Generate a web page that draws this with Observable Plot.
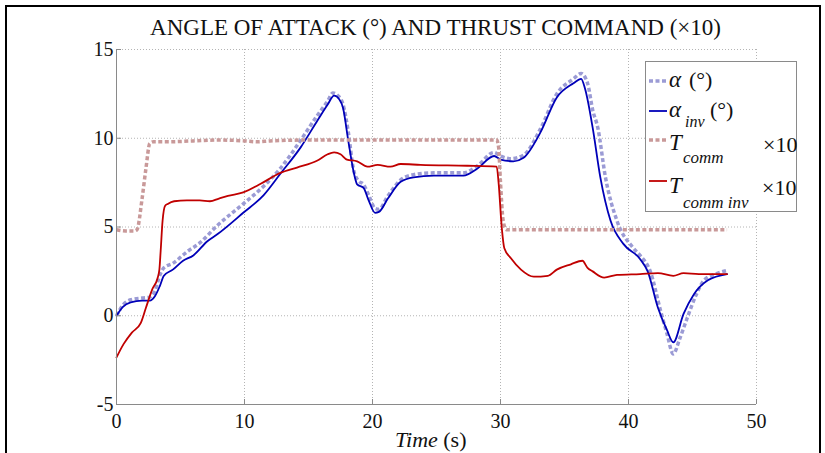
<!DOCTYPE html>
<html>
<head>
<meta charset="utf-8">
<script src="https://cdn.jsdelivr.net/npm/d3@7"></script>
<script src="https://cdn.jsdelivr.net/npm/@observablehq/plot@0.6"></script>
<style>
  body { margin: 0; background: #fff; }
  #wrap { position: relative; width: 825px; height: 453px; overflow: hidden; background: #fff; }
  #wrap > svg { position: absolute; left: 0; top: 0; }
  #overlay { pointer-events: none; font-family: "Liberation Serif", "Times New Roman", serif; }
</style>
</head>
<body>
<div id="wrap"></div>
<script>
// Angle of attack: reference (α) and inverse-model estimate (α_inv), degrees
const alphaTime = [0, 0.5, 1.1, 2.0, 2.6, 3.0, 3.4, 3.7, 4.4, 5.5, 6.5, 7.9, 9.9, 11.5, 12.8, 14.4, 15.7, 16.5, 16.9, 17.3, 17.7, 18.1, 18.5, 18.9, 19.3, 19.7, 20.2, 20.5, 21.2, 22.2, 23.2, 24.8, 27.1, 28.2, 29.5, 30.0, 30.8, 31.8, 33.1, 34.4, 35.7, 36.3, 36.8, 37.2, 37.6, 38.2, 39.1, 40.4, 40.9, 41.7, 42.5, 43.0, 43.5, 44.0, 44.6, 45.3, 45.9, 46.8, 47.7];
const alphaDeg  = [0, 0.6, 0.9, 1.0, 1.05, 1.4, 2.3, 2.7, 2.95, 3.6, 4.1, 5.1, 6.3, 7.3, 8.3, 9.9, 11.3, 12.1, 12.55, 12.4, 11.9, 10.4, 8.3, 7.6, 7.4, 6.8, 6.05, 6.0, 6.75, 7.65, 7.95, 8.05, 8.05, 8.45, 9.2, 9.0, 8.85, 9.05, 10.5, 12.5, 13.35, 13.65, 13.1, 11.6, 10.6, 7.8, 5.35, 3.8, 3.4, 2.5, 0.3, -1.0, -2.15, -1.3, -0.1, 1.2, 2.0, 2.35, 2.55];

const alphaInvTime = [0, 0.5, 1.1, 2.0, 2.6, 3.0, 3.4, 3.7, 4.4, 5.2, 6.0, 7.1, 7.9, 9.9, 11.5, 12.8, 14.4, 15.7, 16.5, 17.0, 17.4, 17.7, 18.1, 18.5, 18.8, 19.3, 19.7, 20.2, 20.5, 21.2, 22.2, 23.2, 24.8, 27.1, 28.2, 29.5, 30.0, 31.0, 31.8, 33.1, 34.4, 35.7, 36.3, 36.6, 37.2, 37.8, 38.6, 39.6, 40.9, 41.5, 42.3, 43.0, 43.5, 44.3, 45.1, 46.2, 47.7];
const alphaInvDeg  = [0, 0.5, 0.75, 0.85, 0.85, 1.1, 1.7, 2.25, 2.6, 3.1, 3.4, 4.2, 4.6, 5.8, 6.8, 8.0, 9.5, 11.0, 11.9, 12.4, 12.2, 11.7, 9.9, 8.2, 7.4, 7.2, 6.5, 5.8, 5.85, 6.6, 7.55, 7.8, 7.9, 7.9, 8.3, 9.0, 8.8, 8.7, 8.9, 10.3, 12.3, 13.1, 13.35, 12.8, 10.6, 7.8, 5.35, 4.05, 3.2, 2.5, 0.45, -0.8, -1.5, 0.1, 1.2, 2.0, 2.35];

// Thrust command (×10): reference and inverse-model estimate
const thrustTime = [0, 0.7, 1.4, 1.6, 2.0, 2.3, 2.6, 2.9, 4.0, 6.0, 8.0, 10.0, 11.0, 12.0, 15.0, 20.0, 25.0, 29.7, 29.85, 30.0, 30.2, 30.45, 35.0, 40.0, 47.7];
const thrustCmd  = [4.85, 4.78, 4.78, 4.85, 6.6, 8.3, 9.7, 9.8, 9.8, 9.85, 9.9, 9.85, 9.8, 9.85, 9.9, 9.9, 9.9, 9.9, 9.5, 7.5, 5.4, 4.85, 4.85, 4.85, 4.85];

const thrustInvTime = [0, 0.55, 1.2, 1.9, 2.3, 2.8, 3.2, 3.35, 3.45, 3.6, 3.8, 4.0, 4.5, 5.5, 6.5, 7.3, 8.0, 8.7, 9.9, 11.3, 12.8, 14.1, 15.7, 16.5, 17.0, 17.5, 18.0, 18.8, 19.6, 20.4, 21.4, 22.2, 23.75, 27.4, 29.7, 29.85, 30.1, 30.3, 30.8, 31.6, 32.6, 33.7, 34.4, 35.5, 36.4, 36.8, 37.2, 38.1, 39.1, 40.9, 42.3, 43.5, 44.3, 45.5, 47.7];
const thrustInvCmd  = [-2.35, -1.6, -0.95, -0.4, 0.45, 1.5, 2.1, 2.6, 3.65, 5.35, 6.2, 6.3, 6.45, 6.5, 6.5, 6.45, 6.6, 6.75, 6.95, 7.45, 8.05, 8.35, 8.75, 9.1, 9.2, 9.1, 8.8, 8.7, 8.4, 8.5, 8.4, 8.55, 8.5, 8.45, 8.4, 7.5, 4.95, 3.8, 3.25, 2.6, 2.2, 2.25, 2.6, 2.9, 3.1, 2.7, 2.5, 2.15, 2.3, 2.35, 2.4, 2.25, 2.4, 2.35, 2.35];

const xTicks = [0, 10, 20, 30, 40, 50];
const yTicks = [-5, 0, 5, 10, 15];
const yTickLabels = ["-5", "0", "5", "10", "15"];

const titleText = "ANGLE OF ATTACK (°) AND THRUST COMMAND (×10)";

const colors = { alpha: "#9b9bd5", alphaInv: "#0000b8", thrust: "#c99999", thrustInv: "#c00000" };

const zip = (ts, vs) => ts.map((t, i) => ({ t, v: vs[i] }));
const alpha = zip(alphaTime, alphaDeg);
const alphaInv = zip(alphaInvTime, alphaInvDeg);
const thrust = zip(thrustTime, thrustCmd);
const thrustInv = zip(thrustInvTime, thrustInvCmd);

const W = 825, H = 453;
const dotted = { strokeWidth: 3.5, strokeDasharray: "4,2.5", strokeLinecap: "butt" };
const solid = { strokeWidth: 1.8 };
const gridStyle = { stroke: "#b4b4b4", strokeOpacity: 1, strokeWidth: 1, strokeDasharray: "1,2" };
const axisGray = "#8a8a8a";

const chart = Plot.plot({
  width: W, height: H,
  marginTop: 49, marginBottom: 49, marginLeft: 116, marginRight: 69,
  x: { domain: [0, 50] },
  y: { domain: [-5, 15] },
  style: { fontFamily: "'Liberation Serif', 'Times New Roman', serif", fontSize: "20px", color: "#111", background: "transparent" },
  marks: [
    Plot.gridX(xTicks.slice(1), gridStyle),
    Plot.gridY(yTicks.slice(1), gridStyle),
    Plot.line(alpha, { x: "t", y: "v", stroke: colors.alpha, curve: "monotone-x", ...dotted }),
    Plot.line(alphaInv, { x: "t", y: "v", stroke: colors.alphaInv, curve: "monotone-x", ...solid }),
    Plot.line(thrust, { x: "t", y: "v", stroke: colors.thrust, curve: "monotone-x", ...dotted }),
    Plot.line(thrustInv, { x: "t", y: "v", stroke: colors.thrustInv, curve: "monotone-x", ...solid }),
    // axis lines (box off: only left and bottom)
    Plot.ruleX([0], { stroke: axisGray }),
    Plot.ruleY([-5], { stroke: axisGray }),
    // inward tick marks
    Plot.axisX(xTicks, { tickSize: -5, stroke: axisGray, tickFormat: () => "", label: null }),
    Plot.axisY(yTicks, { tickSize: -5, stroke: axisGray, tickFormat: () => "", label: null }),
    // tick labels
    Plot.axisX(xTicks, { tickSize: 0, tickPadding: 9, fill: "#111", fontSize: 20, label: null }),
    Plot.axisY(yTicks, { tickSize: 0, tickPadding: 3, fill: "#111", fontSize: 20, label: null,
      tickFormat: (d) => yTickLabels[yTicks.indexOf(d)] })
  ]
});

const wrap = document.getElementById("wrap");
wrap.appendChild(chart);

// Overlay: figure frame, title, axis label and legend
const ov = d3.select(wrap).append("svg")
  .attr("id", "overlay").attr("width", W).attr("height", H);

ov.append("path").attr("d", "M6,460V6H820V460")
  .attr("fill", "none").attr("stroke", "#000").attr("stroke-width", 2);

ov.append("text").attr("x", 435.5).attr("y", 35).attr("text-anchor", "middle")
  .attr("font-size", 23).attr("fill", "#111").text(titleText);

const xl = ov.append("text").attr("x", 395).attr("y", 447).attr("font-size", 22).attr("fill", "#111");
xl.append("tspan").attr("font-style", "italic").text("Time");
xl.append("tspan").text(" (s)");

// legend
const lg = ov.append("g");
lg.append("rect").attr("x", 645.5).attr("y", 61.5).attr("width", 151).attr("height", 150)
  .attr("fill", "#fff").attr("stroke", "#8a8a8a").attr("stroke-width", 1);

const entries = [
  { color: colors.alpha, style: dotted, y: 81 },
  { color: colors.alphaInv, style: solid, y: 111 },
  { color: colors.thrust, style: dotted, y: 140 },
  { color: colors.thrustInv, style: solid, y: 181 }
];
entries.forEach((e) => {
  lg.append("line").attr("x1", 649).attr("x2", 667).attr("y1", e.y).attr("y2", e.y)
    .attr("stroke", e.color).attr("stroke-width", e.style.strokeWidth)
    .attr("stroke-dasharray", e.style.strokeDasharray || null);
});

function label(x, y, size, txt, italic) {
  const t = lg.append("text").attr("x", x).attr("y", y).attr("font-size", size).attr("fill", "#111").text(txt);
  if (italic) t.attr("font-style", "italic");
  return t;
}
label(669, 87, 23, "α", true);
label(689, 87, 22, "(°)");
label(669, 117, 23, "α", true);
label(685, 127, 16, "inv", true);
label(710, 117, 22, "(°)");
label(669, 150, 23, "T", true);
label(683, 163, 17, "comm", true);
label(763, 152, 22, "×10");
label(669, 193, 23, "T", true);
label(683, 208, 17, "comm inv", true);
label(762, 195, 22, "×10");
</script>
</body>
</html>
